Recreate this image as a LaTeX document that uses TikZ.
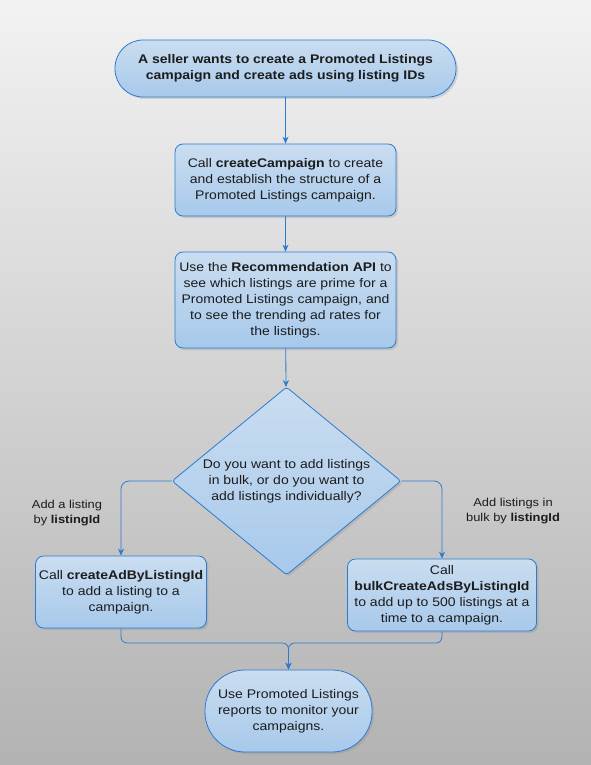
\documentclass[tikz,border=0pt]{standalone}
\usepackage{fontspec}
\setmainfont{Liberation Sans}[FakeStretch=1.12]
\usetikzlibrary{shapes.geometric,shadows,arrows.meta}

\definecolor{edgeblue}{HTML}{2B7BD0}
\definecolor{boxtop}{HTML}{CADDF0}
\definecolor{boxbot}{HTML}{A7C9EB}
\definecolor{inkgray}{HTML}{1C1C1C}

\tikzset{
  flowbox/.style={draw=edgeblue, line width=0.8pt, top color=boxtop, bottom color=boxbot,
    rounded corners=8pt, align=center, text=inkgray, drop shadow={opacity=0.25, shadow xshift=2pt, shadow yshift=-2pt},
    font=\fontsize{12.5}{16}\selectfont},
  pill/.style={flowbox, rounded corners=28pt},
  choice/.style={flowbox, diamond, aspect=1.22, inner sep=0pt, rounded corners=3pt},
  flowarrow/.style={draw=edgeblue, line width=0.8pt, -{Stealth[length=7pt,width=6pt]}},
  sidenote/.style={align=center, text=inkgray, font=\fontsize{11.5}{15}\selectfont}
}

\begin{document}
\begin{tikzpicture}[x=1pt, y=-1pt]
\useasboundingbox (0,0) rectangle (591,765);
\shade[top color=black!5, bottom color=black!30] (0,0) rectangle (591,765);

% start and end
\node[pill, minimum width=341pt, minimum height=57pt, font=\bfseries\fontsize{12.5}{16}\selectfont] (seller) at (285.5,68.5)
  {A seller wants to create a Promoted Listings\\campaign and create ads using listing IDs};
\node[pill, rounded corners=40pt, minimum width=167pt, minimum height=82pt] (report) at (288.5,711)
  {Use Promoted Listings\\reports to monitor your\\campaigns.};

% steps
\node[flowbox, minimum width=221pt, minimum height=72pt] (campaign) at (285.5,180)
  {Call \textbf{createCampaign} to create\\and establish the structure of a\\Promoted Listings campaign.};
\node[flowbox, minimum width=221pt, minimum height=96pt] (recommend) at (285.5,300)
  {Use the \textbf{Recommendation API} to\\see which listings are prime for a\\Promoted Listings campaign, and\\to see the trending ad rates for\\the listings.};
\node[choice, minimum width=229pt, minimum height=188pt] (bulkq) at (286.5,481)
  {Do you want to add listings\\in bulk, or do you want to\\add listings individually?};
\node[flowbox, minimum width=168pt, minimum height=72pt] (single) at (121,592)
  {Call \textbf{createAdByListingId}\\to add a listing to a\\campaign.};
\node[flowbox, minimum width=189pt, minimum height=72pt] (bulk) at (442,595)
  {Call\\\textbf{bulkCreateAdsByListingId}\\to add up to 500 listings at a\\time to a campaign.};

% branch notes
\node[sidenote] (singlenote) at (67,513) {Add a listing\\by \textbf{listingId}};
\node[sidenote] (bulknote) at (513,511) {Add listings in\\bulk by \textbf{listingId}};

\coordinate (merge) at (288.5,643);

\draw[flowarrow] (seller) -- (campaign);
\draw[flowarrow] (campaign) -- (recommend);
\draw[flowarrow] (recommend) -- (bulkq);
\draw[flowarrow, rounded corners=8pt] (bulkq.west) -| (single.north);
\draw[flowarrow, rounded corners=8pt] (bulkq.east) -| (bulk.north);
\draw[flowarrow, rounded corners=6pt] (single.south) |- (merge) -- (report.north);
\draw[flowarrow, rounded corners=6pt] (bulk.south) |- (merge) -- (report.north);
\end{tikzpicture}
\end{document}
